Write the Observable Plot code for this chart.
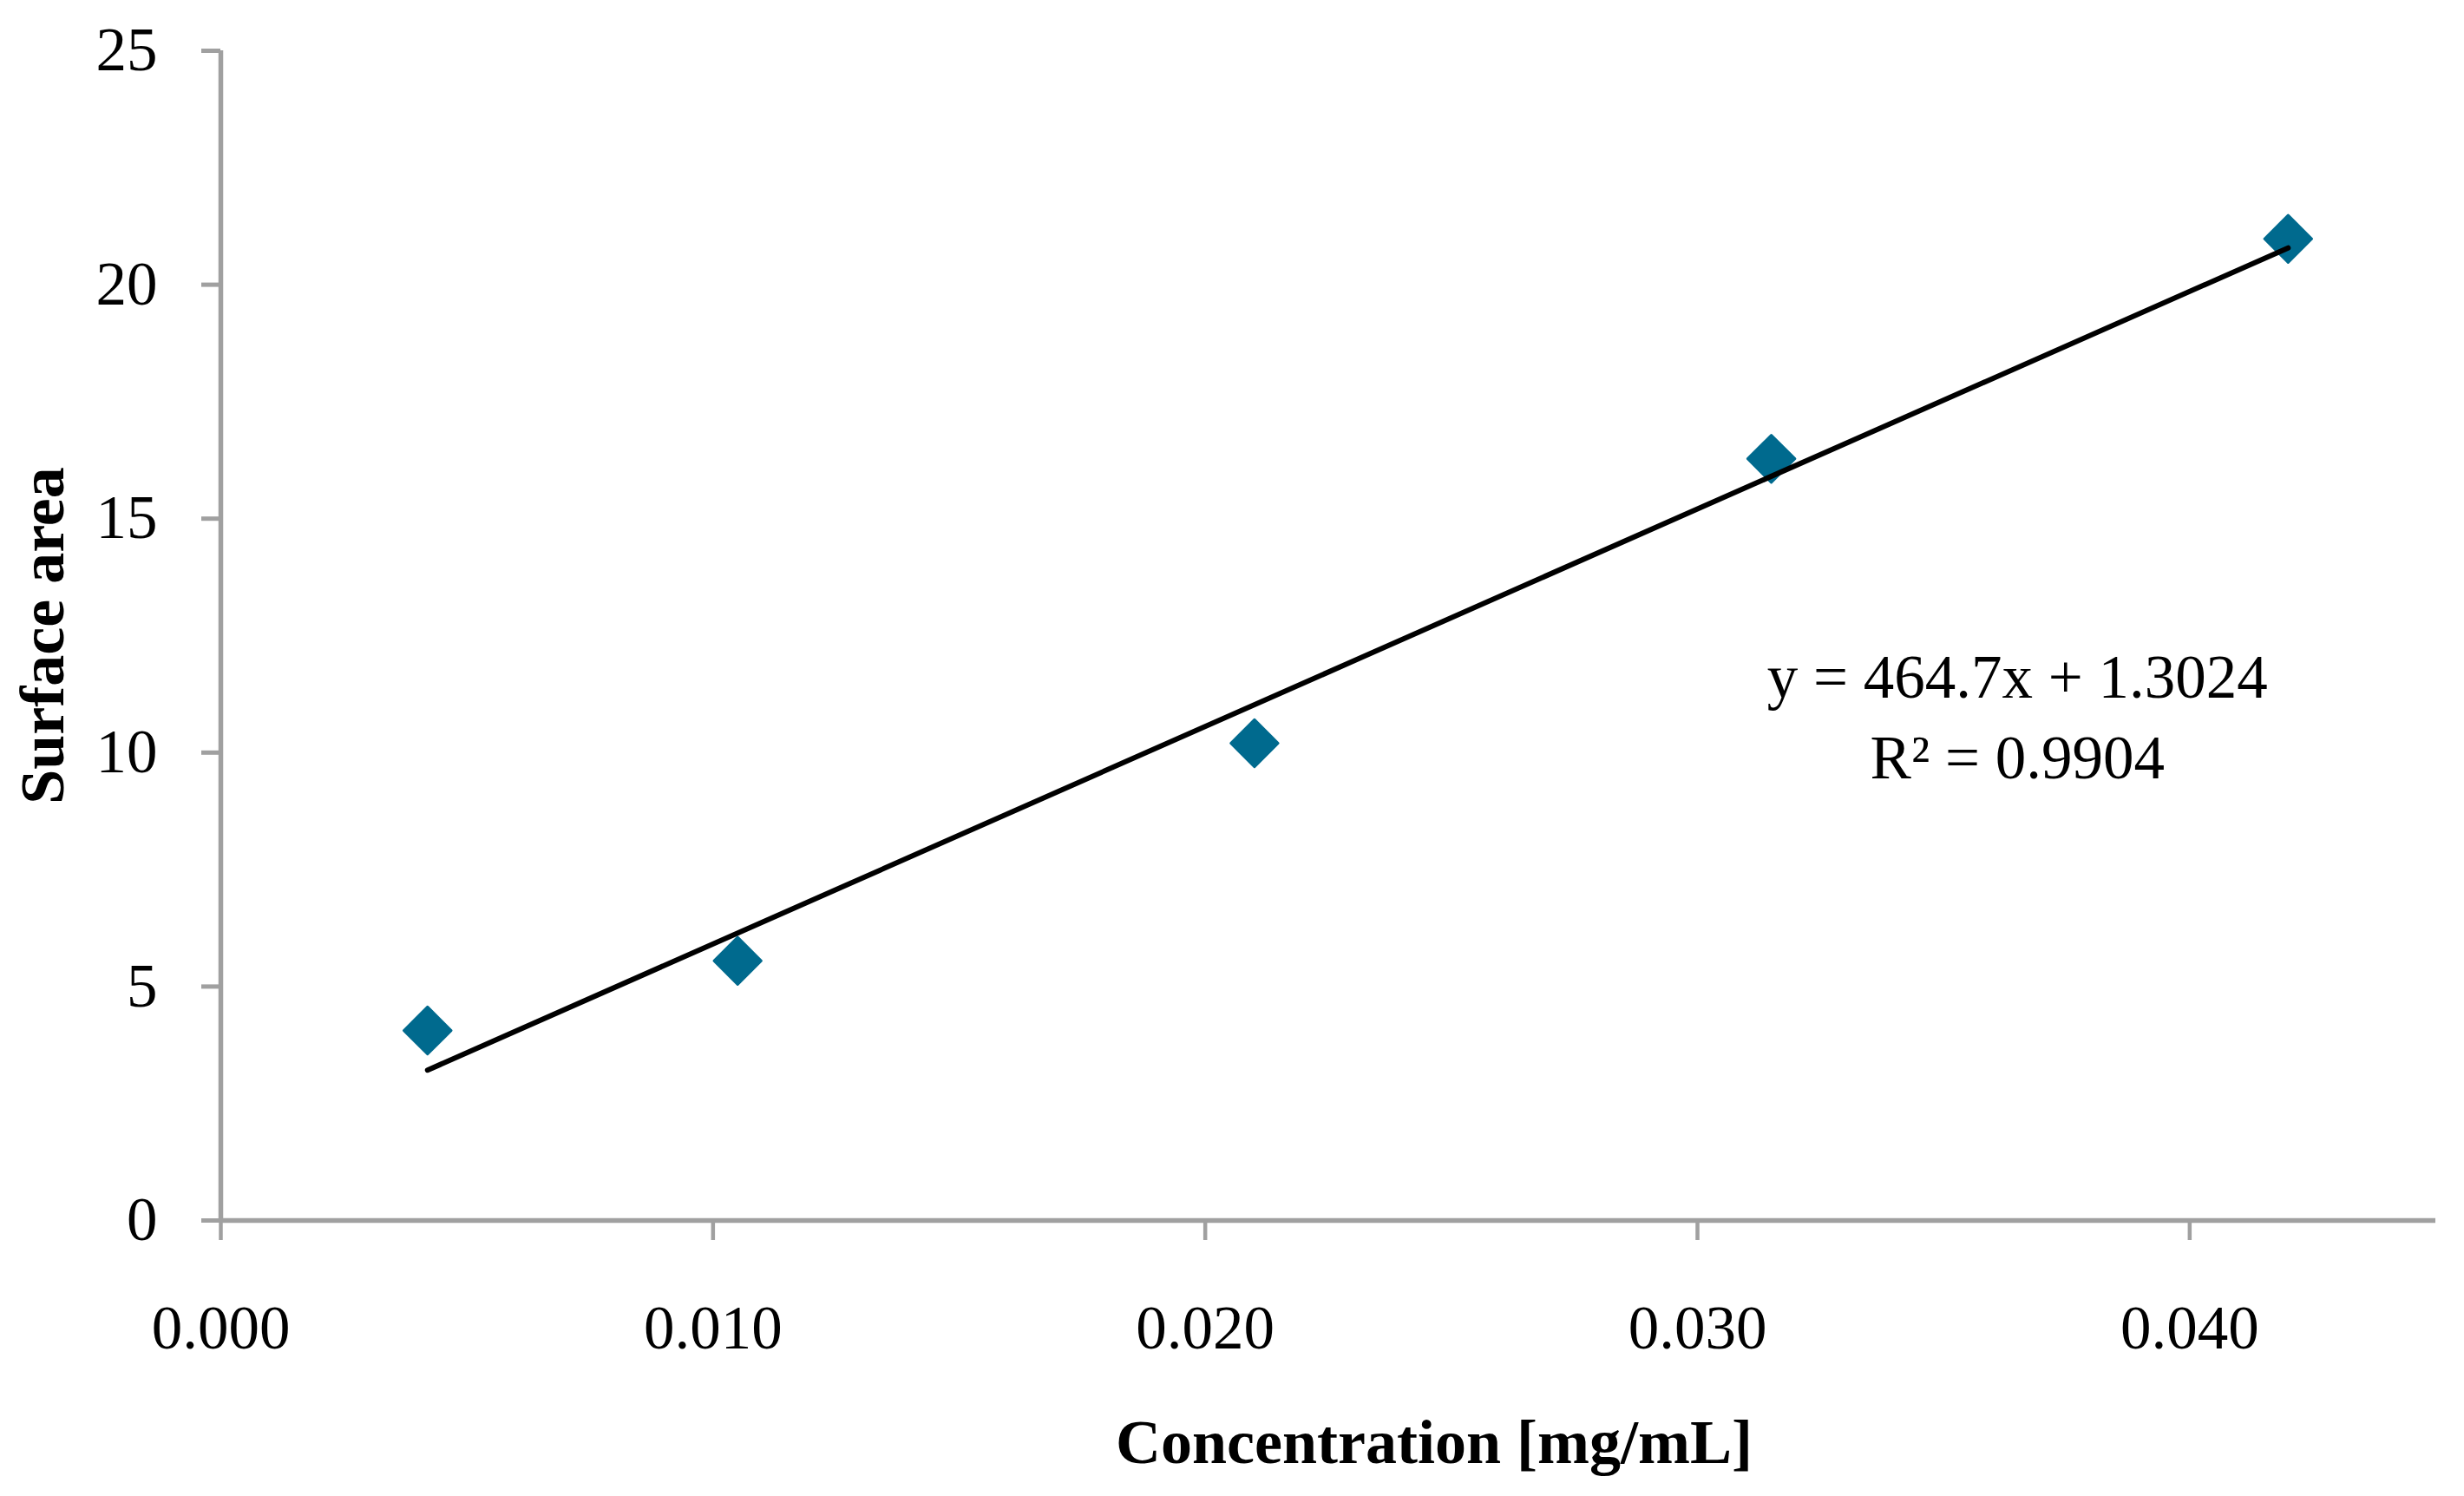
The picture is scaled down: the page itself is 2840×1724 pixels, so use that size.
<!DOCTYPE html>
<html>
<head>
<meta charset="utf-8">
<script src="https://cdn.jsdelivr.net/npm/d3@7"></script>
<script src="https://cdn.jsdelivr.net/npm/@observablehq/plot@0.6"></script>
<style>
  html, body { margin: 0; padding: 0; background: #ffffff; }
  #chart { width: 2840px; height: 1724px; }
</style>
</head>
<body>
<div id="chart"></div>
<script>
// ---- data ----
const concentration = [0.0042, 0.0105, 0.021, 0.0315, 0.042];   // mg/mL
const surfaceArea   = [4.06, 5.55, 10.2, 16.28, 20.98];
const xTicks = [0, 0.01, 0.02, 0.03, 0.04];
const yTicks = [0, 5, 10, 15, 20, 25];
const xLabel = "Concentration [mg/mL]";
const yLabel = "Surface area";
const equationLines = ["y = 464.7x + 1.3024", "R² = 0.9904"];
const equationAt = {x: 0.0365, y: 12.4};

const data = concentration.map((c, i) => ({c, s: surfaceArea[i]}));

const axisGray = "#a0a0a0";
const pointColor = "#006a8e";
const fontFamily = "'Liberation Serif', 'Times New Roman', serif";

const chart = Plot.plot({
  width: 2840,
  height: 1724,
  marginLeft: 254,
  marginRight: 33,
  marginTop: 58,
  marginBottom: 318,
  style: {fontFamily, fontSize: "71px", background: "#ffffff", color: "#000000", overflow: "visible"},
  x: {domain: [0, 0.045], nice: false},
  y: {domain: [0, 25], nice: false},
  marks: [
    Plot.ruleY([0], {stroke: axisGray, strokeWidth: 5.5}),
    Plot.ruleX([0], {stroke: axisGray, strokeWidth: 5.5}),
    Plot.axisY(yTicks, {
      anchor: "left", tickSize: 22, tickPadding: 51, stroke: axisGray, strokeWidth: 5,
      fill: "#000000", fontSize: 71, label: null, tickFormat: d => String(d)
    }),
    Plot.axisX(xTicks, {
      anchor: "bottom", tickSize: 23, tickPadding: 74, stroke: axisGray, strokeWidth: 4.5,
      fill: "#000000", fontSize: 71, label: null, tickFormat: d3.format(".3f")
    }),
    Plot.dot(data, {
      x: "c", y: "s", symbol: "diamond2", r: 24.5,
      fill: pointColor, stroke: pointColor, strokeWidth: 3, strokeLinejoin: "round"
    }),
    Plot.linearRegressionY(data, {x: "c", y: "s", stroke: "#000000", strokeWidth: 6, ci: 0}),
    Plot.text([equationLines.join("\n")], {
      x: () => equationAt.x, y: () => equationAt.y, text: d => d,
      textAnchor: "middle", lineAnchor: "top", lineHeight: 1.31,
      fontSize: 71, fill: "#000000"
    }),
    Plot.text([xLabel], {
      frameAnchor: "bottom", text: d => d, dx: 122, dy: 256,
      fontSize: 72, fontWeight: "bold", fill: "#000000", lineAnchor: "middle", textAnchor: "middle"
    }),
    Plot.text([yLabel], {
      frameAnchor: "left", text: d => d, dx: -205, rotate: -90,
      fontSize: 72, fontWeight: "bold", fill: "#000000", lineAnchor: "middle", textAnchor: "middle"
    })
  ]
});

document.getElementById("chart").appendChild(chart);
</script>
</body>
</html>
